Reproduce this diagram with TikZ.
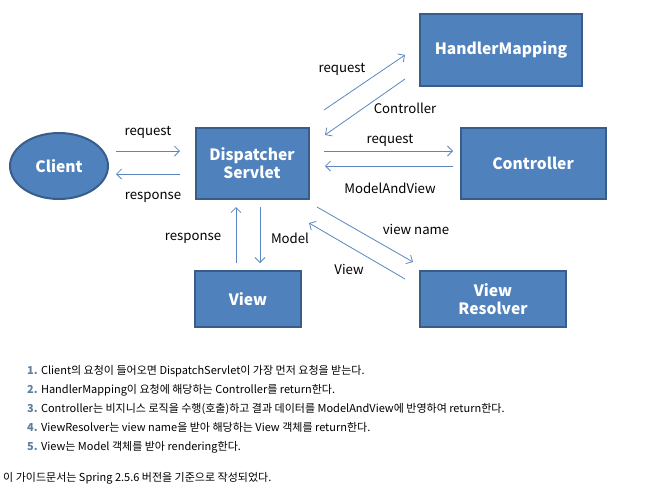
\documentclass[tikz,border=0pt]{standalone}
\usepackage{fontspec}
\setmainfont{Noto Sans CJK KR}
\usetikzlibrary{arrows.meta,shapes.geometric}
\definecolor{boxfill}{HTML}{4F81BD}
\definecolor{boxline}{HTML}{385D8A}
\definecolor{arrowc}{HTML}{5B87C0}
\definecolor{numc}{HTML}{5F7F9F}
\begin{document}
\begin{tikzpicture}[x=1pt,y=1pt,
  blk/.style={draw=boxline,line width=2pt,fill=boxfill,text=white,font=\fontsize{15.6}{18.5}\selectfont\bfseries,align=center,inner sep=0pt},
  conn/.style={draw=arrowc,line width=0.8pt,-{Straight Barb[length=5pt,width=10pt]}},
  lbl/.style={font=\fontsize{13.2}{15}\selectfont,text=black,inner sep=0pt},
  itm/.style={font=\fontsize{11}{13}\selectfont,anchor=west,inner sep=0pt}]
\useasboundingbox (0,0) rectangle (647,-491);
% nodes
\node[blk,ellipse,minimum width=98pt,minimum height=66pt] (client) at (59,-166) {Client};
\node[blk,minimum width=113pt,minimum height=71pt] (ds) at (252,-163) {Dispatcher\\Servlet};
\node[blk,minimum width=162pt,minimum height=72pt] (hm) at (501,-50) {HandlerMapping};
\node[blk,minimum width=145pt,minimum height=71pt] (ctl) at (533,-163) {Controller};
\node[blk,minimum width=106pt,minimum height=56pt] (view) at (248,-299) {View};
\node[blk,minimum width=146pt,minimum height=56pt] (vr) at (493,-299) {View\\Resolver};
% connector end points
\coordinate (c1a) at (116,-151); \coordinate (c1b) at (180,-151);
\coordinate (c2a) at (180,-174); \coordinate (c2b) at (116,-174);
\coordinate (h1a) at (324,-110); \coordinate (h1b) at (405,-55);
\coordinate (h2a) at (405,-79);  \coordinate (h2b) at (325,-135);
\coordinate (k1a) at (324,-151); \coordinate (k1b) at (453,-151);
\coordinate (k2a) at (453,-166); \coordinate (k2b) at (325,-166);
\coordinate (r1a) at (317,-207); \coordinate (r1b) at (413,-262);
\coordinate (r2a) at (405,-279); \coordinate (r2b) at (309,-223);
\coordinate (v1a) at (236,-263); \coordinate (v1b) at (236,-207);
\coordinate (v2a) at (260,-207); \coordinate (v2b) at (260,-263);
\draw[conn] (c1a) -- (c1b);
\draw[conn] (c2a) -- (c2b);
\draw[conn] (h1a) -- (h1b);
\draw[conn] (h2a) -- (h2b);
\draw[conn] (k1a) -- (k1b);
\draw[conn] (k2a) -- (k2b);
\draw[conn] (r1a) -- (r1b);
\draw[conn] (r2a) -- (r2b);
\draw[conn] (v1a) -- (v1b);
\draw[conn] (v2a) -- (v2b);
% labels
\node[lbl] (l1) at (148,-132) {request};
\node[lbl] (l2) at (153,-197) {response};
\node[lbl] (l3) at (342,-69) {request};
\node[lbl] (l4) at (405,-108) {Controller};
\node[lbl] (l5) at (390,-140) {request};
\node[lbl] (l6) at (390,-188) {ModelAndView};
\node[lbl] (l7) at (416,-229) {view name};
\node[lbl] (l8) at (349,-269) {View};
\node[lbl] (l9) at (193,-238) {response};
\node[lbl] (l10) at (290,-238) {Model};
% text
\node[itm] (t1) at (27,-371) {\textcolor{numc}{\bfseries 1.} Client의 요청이 들어오면 DispatchServlet이 가장 먼저 요청을 받는다.};
\node[itm] (t2) at (27,-390) {\textcolor{numc}{\bfseries 2.} HandlerMapping이 요청에 해당하는 Controller를 return한다.};
\node[itm] (t3) at (27,-408.5) {\textcolor{numc}{\bfseries 3.} Controller는 비지니스 로직을 수행(호출)하고 결과 데이터를 ModelAndView에 반영하여 return한다.};
\node[itm] (t4) at (27,-427.5) {\textcolor{numc}{\bfseries 4.} ViewResolver는 view name을 받아 해당하는 View 객체를 return한다.};
\node[itm] (t5) at (27,-447) {\textcolor{numc}{\bfseries 5.} View는 Model 객체를 받아 rendering한다.};
\node[itm] (t6) at (3,-478) {이 가이드문서는 Spring 2.5.6 버전을 기준으로 작성되었다.};
\end{tikzpicture}
\end{document}
